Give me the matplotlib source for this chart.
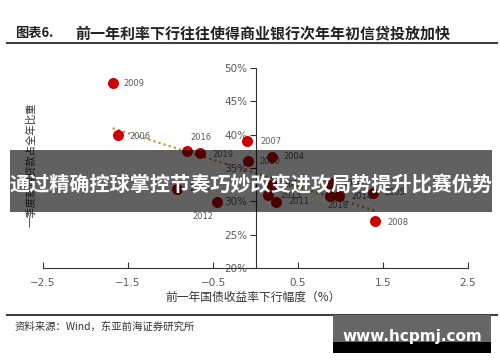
import numpy as np
from matplotlib import pyplot as plt
from matplotlib.patches import Rectangle

plt.rcParams['font.family'] = ['Noto Sans CJK SC', 'DejaVu Sans']

# data: x = 前一年国债收益率变动 (%), y = 一季度新增贷款占全年比重 (%)
years = ['2009', '2006', '2016', '2019', '2015', '2012', '2007', '2020', '2004',
         '2017', '2013', '2011', '2010', '2018', '2014', '2005', '2008']
yield_chg = [-1.68, -1.62, -0.81, -0.65, -0.92, -0.45, -0.10, -0.09, 0.19,
             0.19, 0.15, 0.24, 0.88, 0.88, 0.98, 1.38, 1.41]
loan_share = [47.8, 39.9, 37.5, 37.3, 31.9, 29.9, 39.1, 36.1, 36.7,
              32.5, 30.9, 29.9, 32.7, 30.8, 30.8, 31.2, 27.0]

x_ticks = [-2.5, -1.5, -0.5, 0.5, 1.5, 2.5]
y_ticks = [20, 25, 30, 35, 40, 45, 50]

title_no = '图表6.'
title = '前一年利率下行往往使得商业银行次年年初信贷投放加快'
x_label = '前一年国债收益率下行幅度（%）'
y_label = '一季度新增贷款占全年比重'
source = '资料来源：Wind，东亚前海证券研究所'
banner = '通过精确控球掌控节奏巧妙改变进攻局势提升比赛优势'
watermark = 'www.hcpmj.com'

W, H = 500, 362


def fx(x):
    return x / W


def fy(y):
    return 1 - y / H


fig = plt.figure(figsize=(5, 3.62), dpi=100)
ax = fig.add_axes([fx(43), fy(268), fx(468) - fx(43), fy(68) - fy(268)])

red = '#CC0000'
grey = '#595959'

ax.scatter(yield_chg, loan_share, s=48, color=red, zorder=3, clip_on=False)

# trend line
k, b = np.polyfit(yield_chg, loan_share, 1)
xs = np.array([min(yield_chg), max(yield_chg)])
ax.plot(xs, k * xs + b, color='#C9933F', lw=1.6, ls=(0, (1, 1.4)), zorder=2)

# label offsets in pixels (dx, dy down), ha
offsets = {
    '2009': (11, 1, 'left'), '2006': (12, 1, 'left'), '2016': (4, -14, 'left'),
    '2019': (12, 2, 'left'), '2015': (12, 0, 'left'), '2012': (-14, 15, 'center'),
    '2007': (13, 1, 'left'), '2020': (12, 1, 'left'), '2004': (12, 0, 'left'),
    '2017': (12, 0, 'left'), '2013': (12, 0, 'left'), '2011': (12, 0, 'left'),
    '2010': (12, 0, 'left'), '2018': (8, 10, 'center'), '2014': (13, 1, 'left'),
    '2005': (12, -1, 'left'), '2008': (12, 1, 'left'),
}
for yr, xv, yv in zip(years, yield_chg, loan_share):
    dx, dy, ha = offsets[yr]
    ax.annotate(yr, (xv, yv), xytext=(dx, -dy), textcoords='offset pixels',
                ha=ha, va='center', fontsize=6, color=grey,
                family='DejaVu Sans')

ax.set_xlim(-2.5, 2.5)
ax.set_ylim(20, 50)
ax.spines['top'].set_visible(False)
ax.spines['right'].set_visible(False)
ax.spines['left'].set_position(('data', 0))
ax.spines['left'].set_bounds(20, 50)
ax.spines['left'].set_color('#333333')
ax.spines['bottom'].set_color('#333333')
ax.set_xticks(x_ticks)
ax.set_xticklabels([f'{t:.1f}'.replace('-', '\u2212') for t in x_ticks],
                   family='DejaVu Sans')
ax.set_yticks(y_ticks)
ax.set_yticklabels([f'{t}%' for t in y_ticks], family='DejaVu Sans')
ax.tick_params(axis='x', direction='in', length=4, pad=7, labelsize=7.5,
               labelcolor=grey, color='#333333')
ax.tick_params(axis='y', direction='out', length=4, pad=2, labelsize=7.5,
               labelcolor=grey, color='#333333')
ax.patch.set_alpha(0)

# titles and texts
fig.text(fx(15), fy(33), title_no, fontsize=9.5, fontweight='bold',
         color='#222222', va='center', ha='left')
fig.text(fx(75), fy(33), title, fontsize=10.8, fontweight='bold',
         color='#222222', va='center', ha='left')
fig.add_artist(plt.Line2D([fx(7), fx(497)], [fy(43), fy(43)],
                          color='#404040', lw=1.5))
fig.text(fx(253), fy(297), x_label, fontsize=8.5, color='#333333',
         ha='center', va='center')
fig.text(fx(31), fy(165), y_label, fontsize=7.5, color='#333333',
         ha='center', va='center', rotation=90)
fig.add_artist(plt.Line2D([fx(7), fx(497)], [fy(315), fy(315)],
                          color='#404040', lw=1.5))
fig.text(fx(15), fy(327), source, fontsize=7.5, color='#333333',
         ha='left', va='center')

# overlay banner
fig.add_artist(Rectangle((fx(10), fy(212)), fx(492) - fx(10), fy(150) - fy(212),
                         transform=fig.transFigure, color='black', alpha=0.62,
                         lw=0, zorder=10))
fig.text(fx(251), fy(184), banner, fontsize=14.5, fontweight='bold',
         color='white', ha='center', va='center', zorder=11)

# watermark box
fig.add_artist(Rectangle((fx(333), fy(342)), fx(491) - fx(333), fy(315) - fy(342),
                         transform=fig.transFigure, color='#666666', lw=0,
                         zorder=10))
fig.add_artist(Rectangle((fx(333), fy(353)), fx(491) - fx(333), fy(342) - fy(353),
                         transform=fig.transFigure, color='black', lw=0,
                         zorder=10))
fig.text(fx(412), fy(337), watermark, fontsize=11, fontweight='bold',
         color='white', ha='center', va='center', zorder=11,
         family='DejaVu Sans')

fig.savefig('out.png', dpi=100)
